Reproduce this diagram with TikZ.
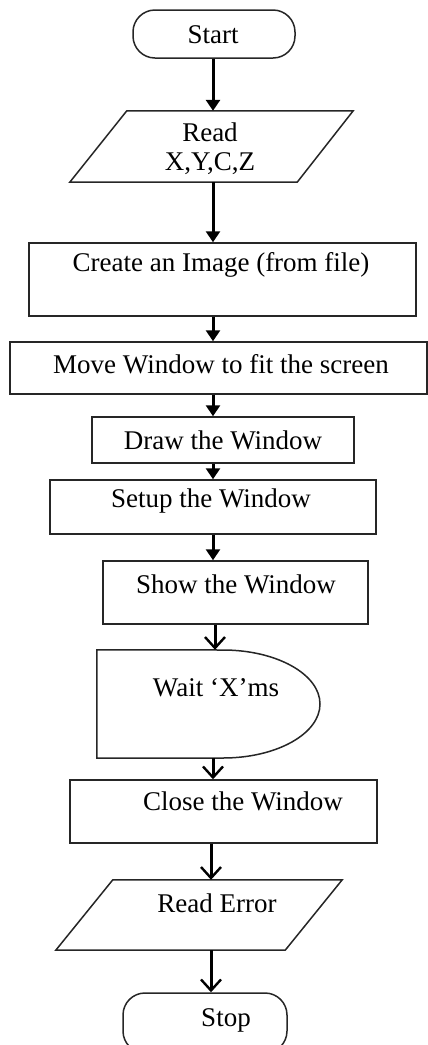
\documentclass[tikz,border=0pt]{standalone}
\usepackage{fontspec}
\setmainfont{Liberation Serif}
\usetikzlibrary{arrows.meta,calc}
\begin{document}
\begin{tikzpicture}[x=1pt,y=-1pt,
  shapeline/.style={draw=black!85,line width=1.5pt},
  box/.style={shapeline,rectangle,inner sep=0pt,anchor=center},
  ghost/.style={rectangle,inner sep=0pt,anchor=center,draw=none},
  lbl/.style={inner sep=0pt,anchor=center,font=\fontsize{27}{31}\selectfont},
  fa/.style={line width=3pt,-{Triangle[length=11pt,width=14pt]}},
  ba/.style={line width=3pt,-{Straight Barb[length=11pt,width=20pt,line width=2.4pt]}}]
\useasboundingbox (0,0) rectangle (428,1045);
% guide coordinates for connector x positions
\coordinate (axA) at (213,0);
\coordinate (axB) at (215,0);
\coordinate (axC) at (211,0);
% Start
\node[box,rounded corners=22pt,minimum width=162pt,minimum height=48pt] (start) at (214,34) {};
\node[lbl] at (213,35) {Start};
% Read X,Y,C,Z (parallelogram)
\node[ghost,minimum width=283pt,minimum height=71pt] (read) at (211.5,146.5) {};
\draw[shapeline] ($(read.north west)+(57,0)$) -- (read.north east) -- ($(read.south east)+(-56,0)$) -- (read.south west) -- cycle;
\node[lbl] at (210,132) {Read};
\node[lbl] at (210,164) {X,Y,C,Z};
% Create
\node[box,minimum width=387pt,minimum height=73pt] (create) at (222.5,279.5) {};
\node[lbl] at (221,265) {Create an Image (from file)};
% Move
\node[box,minimum width=417pt,minimum height=52pt] (move) at (218.5,368) {};
\node[lbl] at (221,364) {Move Window to fit the screen};
% Draw
\node[box,minimum width=262pt,minimum height=46pt] (drawwin) at (223,440) {};
\node[lbl] at (223,440) {Draw the Window};
% Setup
\node[box,minimum width=326pt,minimum height=54pt] (setup) at (213,507) {};
\node[lbl] at (211,501) {Setup the Window};
% Show
\node[box,minimum width=265pt,minimum height=63pt] (show) at (235.5,592.5) {};
\node[lbl] at (236,584) {Show the Window};
% Wait (delay)
\node[ghost,minimum width=223pt,minimum height=108pt] (wait) at (208.5,704) {};
\draw[shapeline] (wait.north west) -- (223,650) .. controls (276.5,650) and (320,674.2) .. (320,704)
  .. controls (320,733.8) and (276.5,758) .. (223,758) -- (wait.south west) -- cycle;
\node[lbl] at (216,688) {Wait ‘X’ms};
% Close
\node[box,minimum width=307pt,minimum height=63pt] (close) at (223.5,811.5) {};
\node[lbl] at (243,801) {Close the Window};
% Read Error (parallelogram)
\node[ghost,minimum width=286pt,minimum height=70pt] (readerr) at (199,915) {};
\draw[shapeline] ($(readerr.north west)+(57,0)$) -- (readerr.north east) -- ($(readerr.south east)+(-57,0)$) -- (readerr.south west) -- cycle;
\node[lbl] at (217,903) {Read Error};
% Stop
\node[box,rounded corners=22pt,minimum width=164pt,minimum height=60pt] (stop) at (205,1023) {};
\node[lbl] at (226,1020) {Stop};
% connectors
\draw[fa] (start.south -| axA) -- (read.north -| axA);
\draw[fa] (read.south -| axA) -- (create.north -| axA);
\draw[fa] (create.south -| axA) -- (move.north -| axA);
\draw[fa] (move.south -| axA) -- (drawwin.north -| axA);
\draw[fa] (drawwin.south -| axA) -- (setup.north -| axA);
\draw[fa] (setup.south -| axA) -- (show.north -| axA);
\draw[ba] (show.south -| axB) -- (wait.north -| axB);
\draw[ba] (wait.south -| axA) -- (close.north -| axA);
\draw[ba] (close.south -| axC) -- (readerr.north -| axC);
\draw[ba] (readerr.south -| axC) -- (stop.north -| axC);
\end{tikzpicture}
\end{document}
